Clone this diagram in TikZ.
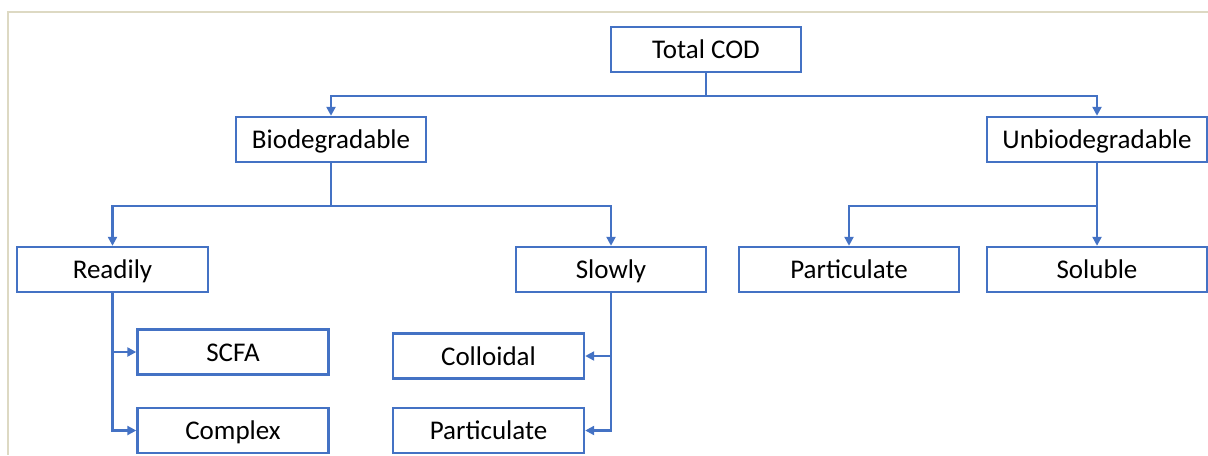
\documentclass[tikz,border=0pt]{standalone}
\usepackage{fontspec}
\setmainfont{Carlito}
\usetikzlibrary{arrows.meta}

\definecolor{boxblue}{HTML}{4472C4}
\definecolor{framegray}{HTML}{DDD9C3}

\tikzset{
  box/.style={draw=boxblue,line width=1.2pt,rectangle,inner sep=0pt,
    minimum height=22.5pt,text height=12pt,text depth=3pt,
    font=\fontsize{13.5}{16}\selectfont},
  link/.style={draw=boxblue,line width=1.2pt,-{Triangle[length=4.5pt,width=4.5pt]}}
}

\begin{document}
\begin{tikzpicture}[x=0.5pt,y=-0.5pt]

\useasboundingbox (0,0) rectangle (1208,455);
\draw [framegray,line width=1pt] (1208,12)--(8,12)--(8,455);


\node [box,minimum width=95pt](total)   at (706,49.5)   {Total COD};
\node [box,minimum width=95pt](bio)     at (331,139.5)  {Biodegradable};
\node [box,minimum width=110pt](unbio)  at (1097,139.5) {Unbiodegradable};
\node [box,minimum width=95.5pt](readily) at (112.5,269.5) {Readily};
\node [box,minimum width=95pt](slowly)  at (611,269.5)  {Slowly};
\node [box,minimum width=110pt](part2)  at (849,269.5)  {Particulate};
\node [box,minimum width=110pt](soluble) at (1097,269.5) {Soluble};
\node [box,minimum width=95.5pt](scfa)  at (233,352)    {SCFA};
\node [box,minimum width=95.5pt](complex) at (233,430.5) {Complex};
\node [box,minimum width=95.5pt](colloid) at (488.5,356) {Colloidal};
\node [box,minimum width=95.5pt](part1) at (488.5,430.5) {Particulate};


\draw [link] (total.south)--++(0,23) -| (bio.north);
\draw [link] (total.south)--++(0,23) -| (unbio.north);
\draw [link] (bio.south)--++(0,43) -| (readily.north);
\draw [link] (bio.south)--++(0,43) -| (slowly.north);
\draw [link] (unbio.south)--++(0,43) -| (part2.north);
\draw [link] (unbio.south)--(soluble.north);
\draw [link] (readily.south) |- (scfa.west);
\draw [link] (readily.south) |- (complex.west);
\draw [link] (slowly.south) |- (colloid.east);
\draw [link] (slowly.south) |- (part1.east);



\end{tikzpicture}
\end{document}
